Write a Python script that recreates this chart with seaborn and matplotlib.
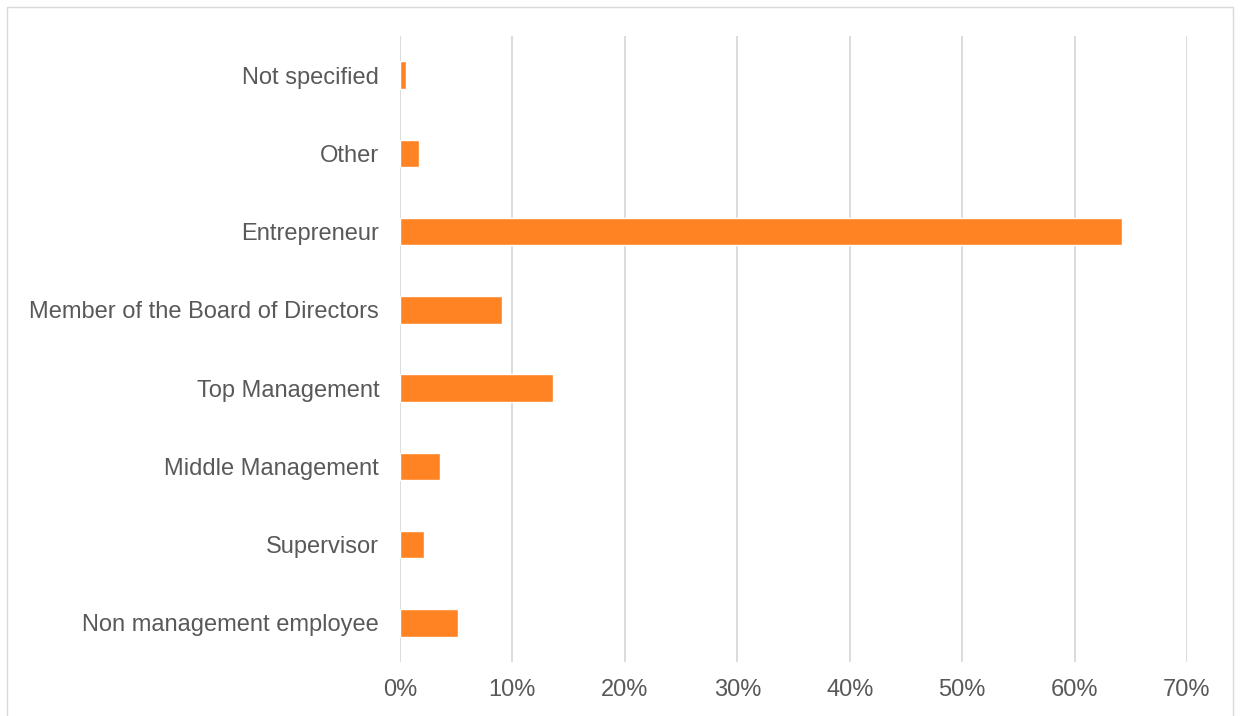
import matplotlib
matplotlib.use("Agg")
import matplotlib.pyplot as plt
import seaborn as sns
import pandas as pd
from matplotlib.patches import Rectangle
from matplotlib.ticker import PercentFormatter

categories = ["Not specified", "Other", "Entrepreneur", "Member of the Board of Directors",
              "Top Management", "Middle Management", "Supervisor", "Non management employee"]
values = [0.005, 0.017, 0.642, 0.091, 0.136, 0.036, 0.021, 0.052]
x_ticks = [0.0, 0.1, 0.2, 0.3, 0.4, 0.5, 0.6, 0.7]

df = pd.DataFrame({"category": categories, "value": values})

sns.set_theme(style="white")
plt.rcParams["font.family"] = ["Liberation Sans", "DejaVu Sans"]

W, H = 1241, 716
fig = plt.figure(figsize=(W / 100, H / 100), dpi=100)
ax = fig.add_axes([400 / W, 1 - 662 / H, (1187 - 400) / W, (662 - 36) / H])

sns.barplot(data=df, x="value", y="category", order=categories, orient="h",
            color="#FF8323", saturation=1, width=0.35, ax=ax, zorder=3)

ax.set_xlim(0, 0.7)
ax.set_xticks(x_ticks)
ax.xaxis.set_major_formatter(PercentFormatter(1.0, decimals=0))
ax.grid(axis="x", color="#D9D9D9", linewidth=1.3, zorder=0)
ax.grid(axis="y", visible=False)
for s in ax.spines.values():
    s.set_visible(False)
ax.set_xlabel("")
ax.set_ylabel("")
ax.tick_params(axis="y", length=0, pad=15, labelsize=17, labelcolor="#595959")
ax.tick_params(axis="x", length=0, pad=12, labelsize=17, labelcolor="#595959")

# outer chart border
fig.patches.append(Rectangle((7 / W, -0.01), (1233 - 7) / W, 1 - 7 / H + 0.01,
                             transform=fig.transFigure, fill=False,
                             edgecolor="#D9D9D9", linewidth=1.0))

fig.savefig("out.png", dpi=100)
